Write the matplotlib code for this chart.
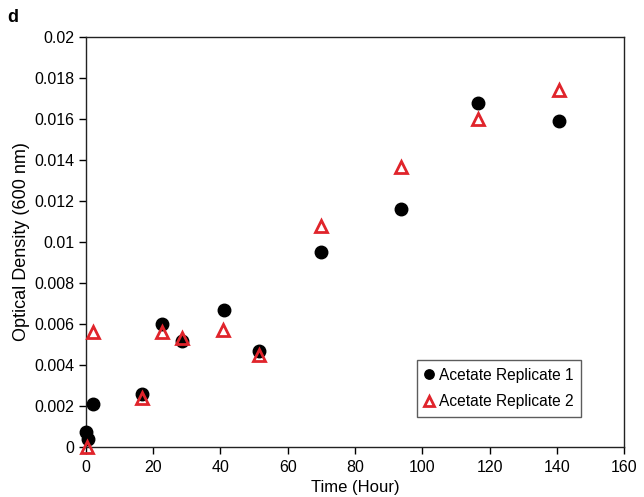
import matplotlib
matplotlib.use("Agg")
import matplotlib.pyplot as plt

plt.rcParams['font.family'] = ['Liberation Sans', 'DejaVu Sans']

# Acetate growth curves
time_rep1 = [0.0, 0.7, 2.0, 16.8, 22.5, 28.5, 41.0, 51.4, 69.9, 93.7, 116.6, 140.7]
od_rep1 = [0.00075, 0.00038, 0.0021, 0.0026, 0.0060, 0.00515, 0.0067, 0.0047, 0.0095, 0.0116, 0.0168, 0.0159]

time_rep2 = [0.4, 2.0, 16.8, 22.5, 28.5, 40.7, 51.4, 69.9, 93.7, 116.6, 140.7]
od_rep2 = [0.0000, 0.0056, 0.0024, 0.0056, 0.0053, 0.0057, 0.0045, 0.0108, 0.01366, 0.0160, 0.0174]

x_ticks = [0, 20, 40, 60, 80, 100, 120, 140, 160]
y_ticks = [0, 0.002, 0.004, 0.006, 0.008, 0.01, 0.012, 0.014, 0.016, 0.018, 0.02]
y_tick_labels = ['0', '0.002', '0.004', '0.006', '0.008', '0.01', '0.012', '0.014', '0.016', '0.018', '0.02']

fig = plt.figure(figsize=(6.44, 4.97), dpi=100)
ax = fig.add_axes([0.1335, 0.1006, 0.8355, 0.825])

ax.plot(time_rep1, od_rep1, linestyle='none', marker='o', markersize=9,
        color='black', markeredgecolor='black', label='Acetate Replicate 1',
        zorder=3, clip_on=False)
ax.plot(time_rep2, od_rep2, linestyle='none', marker='^', markersize=9,
        markerfacecolor='none', markeredgecolor='#e0242b', markeredgewidth=2,
        label='Acetate Replicate 2', zorder=4, clip_on=False)

ax.set_xlim(0, 160)
ax.set_ylim(0, 0.02)
ax.set_xticks(x_ticks)
ax.set_yticks(y_ticks)
ax.set_yticklabels(y_tick_labels)
ax.tick_params(direction='out', length=5, width=1, labelsize=11.5, colors='black')
ax.tick_params(axis='x', pad=4)
for s in ax.spines.values():
    s.set_linewidth(1.0)
    s.set_color('#222222')

ax.set_xlabel('Time (Hour)', fontsize=12, labelpad=4)
ax.set_ylabel('Optical Density (600 nm)', fontsize=13, labelpad=3)

leg = ax.legend(loc='lower right', bbox_to_anchor=(0.92, 0.073), fontsize=11.2,
                frameon=True, fancybox=False, handlelength=0.6, handletextpad=0.3,
                borderpad=0.5, borderaxespad=0, labelspacing=0.75, markerscale=0.75)
leg.get_frame().set_edgecolor('#333333')
leg.get_frame().set_linewidth(1.0)

fig.text(0.012, 0.965, 'd', fontsize=13, fontweight='bold', ha='left', va='center')

fig.savefig('out.png', dpi=100)
